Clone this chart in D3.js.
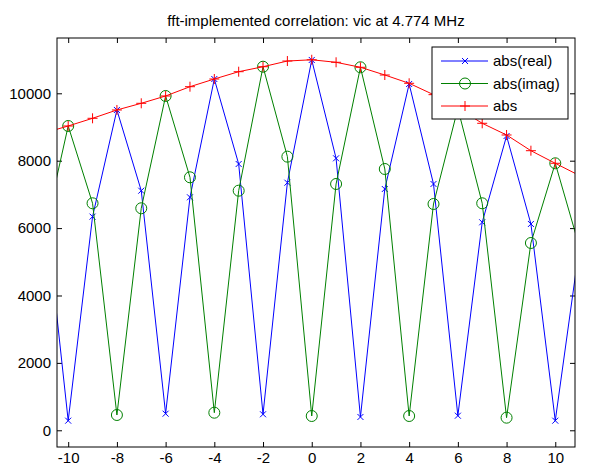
<!DOCTYPE html>
<html>
<head>
<meta charset="utf-8">
<script src="https://cdn.jsdelivr.net/npm/d3@7"></script>
<style>
  body { margin: 0; background: #fff; }
  text { font-family: "Liberation Sans", Arial, sans-serif; }
</style>
</head>
<body>
<svg id="chart" width="592" height="468"></svg>
<script>
const lags = [-11, -10, -9, -8, -7, -6, -5, -4, -3, -2, -1, 0, 1, 2, 3, 4, 5, 6, 7, 8, 9, 10, 11];
const absReal = [6950, 285, 6340, 9505, 7110, 493, 6914, 10424, 7902, 475, 7347, 10989, 8071, 395, 7160, 10276, 7309, 433, 6172, 8733, 6122, 285, 5500];
const absImag = [5800, 9030, 6736, 454, 6588, 9920, 7507, 522, 7110, 10789, 8120, 424, 7309, 10772, 7754, 424, 6715, 9550, 6736, 374, 5558, 7923, 5420];
const absVal = [8820, 9030, 9258, 9505, 9703, 9920, 10196, 10424, 10641, 10789, 10958, 10995, 10920, 10772, 10543, 10297, 9960, 9560, 9110, 8763, 8297, 7923, 7556];
const xTicks = [-10, -8, -6, -4, -2, 0, 2, 4, 6, 8, 10];
const yTicks = [0, 2000, 4000, 6000, 8000, 10000];

const svg = d3.select("#chart");
const margin = { top: 38, right: 17, bottom: 21, left: 57 };
const width = 592 - margin.left - margin.right;
const height = 468 - margin.top - margin.bottom;

const x = d3.scaleLinear().domain([-10.46, 10.81]).range([0, width]);
const y = d3.scaleLinear().domain([-496, 11641]).range([height, 0]);

const g = svg.append("g").attr("transform", `translate(${margin.left}, ${margin.top})`);

g.append("clipPath").attr("id", "clip")
  .append("rect").attr("width", width).attr("height", height);

svg.append("text")
  .attr("x", margin.left + width / 2).attr("y", 26)
  .attr("text-anchor", "middle").attr("font-size", 15)
  .text("fft-implemented correlation: vic at 4.774 MHz");

// axes with inward ticks, MATLAB style
const tick = 5;
const fmt = d => String(d);
g.append("g").attr("transform", `translate(0, ${height})`)
  .call(d3.axisBottom(x).tickValues(xTicks).tickSizeInner(-tick).tickSizeOuter(0).tickPadding(5).tickFormat(fmt))
  .call(a => a.select(".domain").remove());
g.append("g")
  .call(d3.axisTop(x).tickValues(xTicks).tickSizeInner(-tick).tickSizeOuter(0).tickFormat(""))
  .call(a => a.select(".domain").remove());
g.append("g")
  .call(d3.axisLeft(y).tickValues(yTicks).tickSizeInner(-tick).tickSizeOuter(0).tickPadding(6).tickFormat(fmt))
  .call(a => a.select(".domain").remove());
g.append("g").attr("transform", `translate(${width}, 0)`)
  .call(d3.axisRight(y).tickValues(yTicks).tickSizeInner(-tick).tickSizeOuter(0).tickFormat(""))
  .call(a => a.select(".domain").remove());
g.selectAll(".tick text").attr("font-size", 15).attr("fill", "#000")
  .attr("font-family", "Liberation Sans, Arial, sans-serif");
g.selectAll(".tick line").attr("stroke", "#000");

const series = [
  { name: "abs(real)", values: absReal, color: "#0000ff", marker: "x" },
  { name: "abs(imag)", values: absImag, color: "#008000", marker: "o" },
  { name: "abs", values: absVal, color: "#ff0000", marker: "+" }
];

function drawMarker(sel, type, color) {
  if (type === "x") {
    sel.append("path").attr("d", "M-3,-3L3,3M-3,3L3,-3")
      .attr("stroke", color).attr("fill", "none").attr("stroke-width", 1);
  } else if (type === "o") {
    sel.append("circle").attr("r", 5.5)
      .attr("stroke", color).attr("fill", "none").attr("stroke-width", 1);
  } else {
    sel.append("path").attr("d", "M-5,0L5,0M0,-5L0,5")
      .attr("stroke", color).attr("fill", "none").attr("stroke-width", 1);
  }
}

const plot = g.append("g").attr("clip-path", "url(#clip)");
const line = d3.line().x((d, i) => x(lags[i])).y(d => y(d));
const [x0, x1] = x.domain();

series.forEach(s => {
  plot.append("path").datum(s.values)
    .attr("d", line).attr("fill", "none")
    .attr("stroke", s.color).attr("stroke-width", 1);
  const pts = s.values.map((v, i) => [lags[i], v]).filter(p => p[0] >= x0 && p[0] <= x1);
  plot.selectAll(null).data(pts).enter().append("g")
    .attr("transform", d => `translate(${x(d[0])}, ${y(d[1])})`)
    .each(function () { drawMarker(d3.select(this), s.marker, s.color); });
});

// axes box
g.append("rect").attr("width", width).attr("height", height)
  .attr("fill", "none").attr("stroke", "#000").attr("stroke-width", 1);

// legend
const lg = svg.append("g").attr("transform", "translate(432, 47)");
lg.append("rect").attr("width", 136).attr("height", 72)
  .attr("fill", "#fff").attr("stroke", "#000").attr("stroke-width", 1);
series.forEach((s, i) => {
  const ly = 14 + i * 22.5;
  lg.append("line").attr("x1", 9).attr("x2", 56).attr("y1", ly).attr("y2", ly)
    .attr("stroke", s.color).attr("stroke-width", 1);
  drawMarker(lg.append("g").attr("transform", `translate(33, ${ly})`), s.marker, s.color);
  lg.append("text").attr("x", 61).attr("y", ly + 5).attr("font-size", 15).text(s.name);
});
</script>
</body>
</html>
